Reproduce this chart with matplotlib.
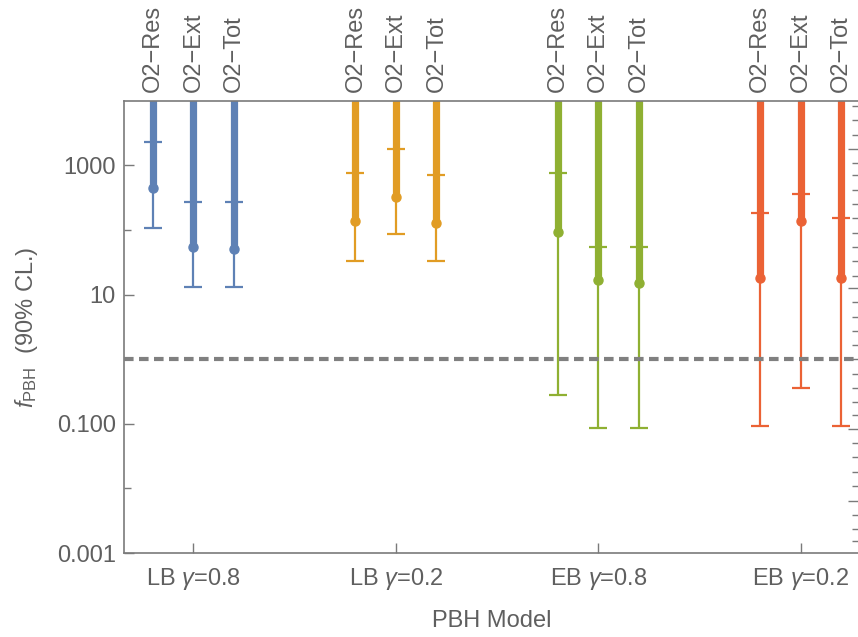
import numpy as np
import matplotlib
matplotlib.use("Agg")
import matplotlib.pyplot as plt

# PBH models (bottom axis) and searches (top axis)
models = ["LB $\\gamma$=0.8", "LB $\\gamma$=0.2", "EB $\\gamma$=0.8", "EB $\\gamma$=0.2"]
searches = ["O2\u2212Res", "O2\u2212Ext", "O2\u2212Tot"]
colors = ["#5E81B5", "#E19C24", "#8FB032", "#EB6235"]

# f_PBH (90% CL): central value, lower and upper error bar ends
central = [
    [452, 54, 50],
    [138, 324, 127],
    [92, 16.5, 15.1],
    [18.1, 138, 18.1],
]
lower = [
    [109, 12.9, 12.9],
    [33, 85, 33],
    [0.275, 0.085, 0.085],
    [0.092, 0.356, 0.092],
]
upper = [
    [2320, 274, 274],
    [771, 1810, 700],
    [771, 54.6, 54.6],
    [181, 357, 151],
]
f_ref = 1.0

# right frame ticks (log10 values), Mathematica-style automatic ticks
right_major = [3.258, 1.103, -1.078, -2.191]
right_minor = [3.917, 3.696, 3.475, 3.036, 2.845, 2.624, 2.402, 2.180, 1.959,
               1.737, 1.520, 1.294, 0.882, 0.660, 0.438, 0.221, 0.0, -0.227,
               -0.448, -0.669, -0.861, -1.299, -1.520, -1.743, -1.964, -2.412,
               -2.633, -2.814]

plt.rcParams["font.family"] = ["Liberation Sans", "DejaVu Sans"]
plt.rcParams["mathtext.fontset"] = "custom"
plt.rcParams["mathtext.rm"] = "Liberation Sans"
plt.rcParams["mathtext.it"] = "Liberation Sans:italic"

text_c = "#5f5f5f"
frame_c = "#7a7a7a"
fs = 17

fig = plt.figure(figsize=(8.58, 6.37), dpi=100)
ax = fig.add_axes([124 / 858, 1 - 553 / 637, (859.5 - 124) / 858, (553 - 100.7) / 637])

offsets = [-0.2, 0.0, 0.2]
top_pos = []
ymax = 1e4
for i, col in enumerate(colors):
    for j, off in enumerate(offsets):
        x = i + 1 + off
        top_pos.append(x)
        c = central[i][j]
        ax.vlines(x, c, ymax * 10, color=col, lw=5.2, zorder=2)
        ax.errorbar(x, c, yerr=[[c - lower[i][j]], [upper[i][j] - c]],
                    fmt="o", color=col, ms=6.5, elinewidth=1.6,
                    capsize=6.2, capthick=1.6, zorder=3)

ax.axhline(f_ref, color="#808080", lw=3, dashes=(2.3, 1.3), zorder=4)

ax.set_yscale("log")
ax.set_ylim(1e-3, ymax)
ax.set_xlim(0.657, 4.29)

ax.set_yticks([1e-3, 1e-1, 1e1, 1e3])
ax.set_yticklabels(["0.001", "0.100", "10", "1000"])
ax.set_yticks([1e-2, 1e0, 1e2], minor=True)
ax.yaxis.set_minor_formatter(matplotlib.ticker.NullFormatter())
ax.set_xticks([1, 2, 3, 4])
ax.set_xticklabels(models)

ax.tick_params(axis="both", which="major", direction="in", length=7.5,
               width=1, color=frame_c, labelcolor=text_c, labelsize=fs)
ax.tick_params(axis="y", which="minor", direction="in", length=5,
               width=1, color=frame_c)
ax.tick_params(axis="x", pad=9)
ax.tick_params(axis="y", pad=6)

for side in ["left", "bottom", "top"]:
    ax.spines[side].set_color(frame_c)
    ax.spines[side].set_linewidth(1.2)
ax.spines["right"].set_visible(False)

# top axis: search labels
top = ax.secondary_xaxis("top")
top.set_xticks(top_pos)
top.set_xticklabels(searches * 4, rotation=90)
top.tick_params(direction="in", length=6, width=1, color=frame_c,
                labelcolor=text_c, labelsize=fs, pad=6)
top.spines["top"].set_visible(False)

# right axis: unlabelled ticks
right = ax.secondary_yaxis("right")
right.set_yticks([10 ** v for v in right_major])
right.set_yticks([10 ** v for v in right_minor], minor=True)
right.yaxis.set_major_formatter(matplotlib.ticker.NullFormatter())
right.yaxis.set_minor_formatter(matplotlib.ticker.NullFormatter())
right.tick_params(which="major", direction="in", length=8.5, width=1, color=frame_c)
right.tick_params(which="minor", direction="in", length=6, width=1, color=frame_c)
right.spines["right"].set_visible(False)

ax.set_xlabel("PBH Model", color=text_c, fontsize=fs, labelpad=13)
ax.set_ylabel("$f_{\\mathrm{PBH}}$  (90% CL.)", color=text_c, fontsize=fs, labelpad=12)

fig.savefig("out.png", dpi=100)
